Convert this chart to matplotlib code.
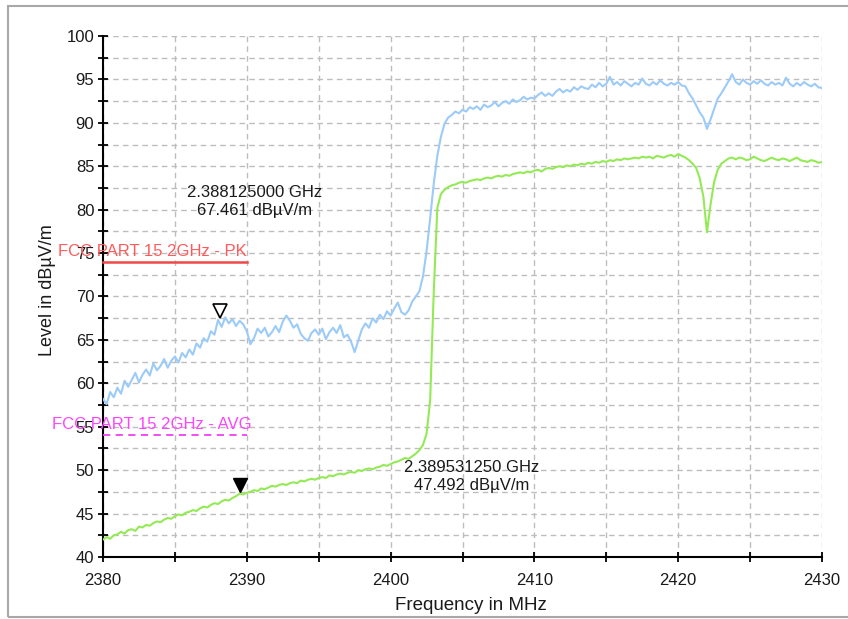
import numpy as np
import matplotlib
matplotlib.use("Agg")
import matplotlib.pyplot as plt
import matplotlib.transforms as mtransforms
from matplotlib.patches import Rectangle

plt.rcParams['font.family'] = ['Liberation Sans', 'DejaVu Sans']

# ---------------- data ----------------
f_start, f_stop = 2380.0, 2430.0

# Peak trace (dBuV/m), sampled every 0.25 MHz from 2380 to 2430
peak_trace = [
    58.2, 57.6, 59.0, 58.4,
    59.5, 58.8, 60.3, 59.6,
    60.4, 61.2, 60.1, 61.0,
    61.6, 60.9, 62.3, 61.5,
    62.0, 62.8, 61.8, 62.6,
    63.1, 62.4, 63.5, 63.0,
    63.9, 63.3, 64.6, 64.1,
    65.2, 64.8, 66.0, 65.6,
    67.3, 66.5, 67.6, 66.9,
    67.4, 66.6, 67.2, 66.8,
    66.0, 64.5, 65.2, 66.3,
    65.8, 66.4, 65.4, 65.9,
    66.6, 65.9, 67.1, 67.8,
    67.2, 66.4, 66.8, 65.7,
    65.2, 64.9, 65.8, 66.2,
    65.6, 66.3, 65.1, 65.9,
    66.4, 65.8, 66.7, 65.3,
    65.6, 64.8, 63.6, 64.9,
    66.2, 66.9, 66.4, 67.5,
    67.0, 67.9, 67.4, 68.3,
    67.8, 68.6, 69.3, 68.2,
    67.9, 68.4, 69.4, 70.0,
    70.6, 72.3, 75.2, 79.0,
    83.0, 86.2, 88.4, 89.9,
    90.6, 90.9, 91.3, 91.1,
    91.5, 91.3, 91.8, 91.6,
    91.9, 91.5, 92.1, 91.8,
    92.0, 92.4, 91.9, 92.3,
    92.5, 92.2, 92.7, 92.4,
    92.6, 93.0, 92.7, 92.9,
    92.8, 93.2, 93.5, 93.1,
    93.4, 93.1, 93.6, 93.9,
    93.5, 93.8, 93.6, 94.1,
    93.8, 94.2, 94.0, 93.9,
    94.4, 94.1, 94.6, 94.2,
    94.5, 95.3, 94.4, 94.7,
    94.3, 94.8, 94.5, 94.2,
    94.6, 94.4, 95.1, 94.5,
    94.3, 94.7, 94.4, 94.9,
    94.5, 94.3, 94.6, 94.4,
    94.7, 94.3, 94.2, 93.4,
    92.8, 92.0, 91.2, 90.6,
    89.3, 90.4, 91.6, 92.8,
    93.4, 94.1, 94.8, 95.6,
    94.7, 94.4, 95.0, 94.6,
    94.4, 94.8, 94.5, 94.9,
    94.5, 94.3, 94.7, 94.4,
    94.6, 94.3, 95.2, 94.5,
    94.2, 94.6, 94.3, 94.7,
    94.4, 94.2, 94.5, 94.1,
    94.0,
]

# Average trace (dBuV/m), same sampling
avg_trace = [
    42.0, 42.3, 42.1, 42.5,
    42.6, 42.9, 42.7, 43.1,
    43.2, 43.0, 43.5, 43.4,
    43.7, 43.6, 43.9, 44.1,
    44.0, 44.3, 44.5, 44.4,
    44.7, 44.9, 44.8, 45.1,
    45.2, 45.4, 45.3, 45.6,
    45.8, 45.7, 46.0, 46.2,
    46.1, 46.4, 46.6, 46.5,
    46.8, 47.0, 47.3, 47.2,
    47.4, 47.5, 47.7, 47.6,
    47.9, 47.8, 48.0, 48.2,
    48.1, 48.3, 48.4, 48.3,
    48.5, 48.6, 48.5, 48.8,
    48.7, 48.9, 49.0, 48.9,
    49.1, 49.2, 49.1, 49.4,
    49.3, 49.5, 49.6, 49.5,
    49.7, 49.8, 49.7, 50.0,
    49.9, 50.1, 50.2, 50.1,
    50.3, 50.4, 50.6, 50.5,
    50.7, 50.9, 51.0, 51.2,
    51.4, 51.3, 51.6, 51.9,
    52.3, 52.9, 54.2, 58.0,
    70.5, 80.2, 81.8, 82.3,
    82.6, 82.8, 82.9, 83.1,
    83.2, 83.1, 83.3, 83.4,
    83.5, 83.4, 83.6, 83.7,
    83.6, 83.8, 83.9, 83.8,
    84.0, 83.9, 84.1, 84.2,
    84.3, 84.2, 84.4, 84.3,
    84.5, 84.6, 84.4, 84.7,
    84.8, 84.7, 84.9, 85.0,
    84.9, 85.1, 85.0, 85.2,
    85.1, 85.3, 85.2, 85.4,
    85.3, 85.5, 85.4, 85.6,
    85.5, 85.7, 85.6, 85.8,
    85.7, 85.9, 85.8, 85.9,
    86.0, 85.9, 86.1, 86.0,
    86.1, 85.9, 86.2, 86.1,
    86.0, 86.2, 86.3, 86.1,
    86.4, 86.2, 86.0, 85.7,
    85.3, 84.8, 83.6, 81.5,
    77.4, 80.6, 83.2, 84.6,
    85.3, 85.6, 85.9, 86.0,
    85.8, 86.0, 85.9, 85.7,
    85.8, 86.1, 85.9, 85.7,
    85.6, 85.8, 86.0, 85.8,
    85.7, 85.9, 85.8, 85.6,
    85.8, 86.0, 85.7, 85.6,
    85.5, 85.7, 85.6, 85.4,
    85.5,
]

# Limit lines
limit_names = ["FCC PART 15 2GHz - PK", "FCC PART 15 2GHz - AVG"]
limit_levels = [74.0, 54.0]
limit_start = [2380.0, 2380.0]
limit_stop = [2390.0, 2390.0]

# Markers
marker_freq = [2388.125, 2389.53125]       # MHz
marker_level = [67.461, 47.492]            # dBuV/m

x_ticks = [2380, 2390, 2400, 2410, 2420, 2430]
y_ticks = [40, 45, 50, 55, 60, 65, 70, 75, 80, 85, 90, 95, 100]

# ---------------- figure ----------------
fig = plt.figure(figsize=(8.48, 6.19), dpi=100)
fig.patch.set_facecolor('white')
fig.patches.append(Rectangle((8 / 848, 2 / 619), 1.2, 611 / 619, transform=fig.transFigure,
                             fill=False, edgecolor='#a8a8a8', linewidth=1.5))

ax = fig.add_axes([103 / 848, 1 - 557 / 619, (822 - 103) / 848, (557 - 36) / 619])
ax.set_xlim(f_start, f_stop)
ax.set_ylim(40, 100)

freqs = np.linspace(f_start, f_stop, len(peak_trace))
ax.plot(freqs, peak_trace, color='#9ccbf8', linewidth=1.5, zorder=3)
ax.plot(freqs, avg_trace, color='#94ea55', linewidth=1.5, zorder=3)

# limit lines
ax.plot([limit_start[0], limit_stop[0]], [limit_levels[0]] * 2, color='#f04848', linewidth=1.8, zorder=4,
        clip_on=False)
ax.plot([limit_start[1], limit_stop[1]], [limit_levels[1]] * 2, color='#f040f0', linewidth=1.3,
        linestyle=(0, (4, 3)), zorder=4, clip_on=False)
ax.text(limit_stop[0], limit_levels[0] + 0.35, limit_names[0], color='#ff5a5a', fontsize=12,
        ha='right', va='bottom', zorder=5, clip_on=False)
ax.text(limit_stop[1] + 0.35, limit_levels[1] + 0.45, limit_names[1], color='#ff44ff', fontsize=12,
        ha='right', va='bottom', zorder=5, clip_on=False)

# markers
off = mtransforms.ScaledTranslation(0, 5.2 / 72, fig.dpi_scale_trans)
ax.plot(marker_freq[0], marker_level[0], marker='v', markersize=10.5, markerfacecolor='white',
        markeredgecolor='black', markeredgewidth=1.2, transform=ax.transData + off, zorder=6)
ax.plot(marker_freq[1], marker_level[1], marker='v', markersize=10.5, markerfacecolor='black',
        markeredgecolor='black', transform=ax.transData + off, zorder=6)

# marker annotations
ax.text(marker_freq[0] + 2.4, marker_level[0] + 13.5,
        f"{marker_freq[0] / 1000:.9f} GHz\n{marker_level[0]:.3f} dBµV/m",
        fontsize=12, ha='center', va='center', color='#1a1a1a', linespacing=1.25, zorder=6)
ax.text(marker_freq[1] + 16.1, marker_level[1] + 1.8,
        f"{marker_freq[1] / 1000:.9f} GHz\n{marker_level[1]:.3f} dBµV/m",
        fontsize=12, ha='center', va='center', color='#1a1a1a', linespacing=1.25, zorder=6)

# axes styling
for s in ['top', 'right']:
    ax.spines[s].set_visible(False)
for s in ['left', 'bottom']:
    ax.spines[s].set_color('black')
    ax.spines[s].set_linewidth(1.5)

ax.set_xticks(x_ticks)
ax.set_xticks(np.array(x_ticks[:-1]) + 5, minor=True)
ax.set_yticks(y_ticks)
ax.set_yticks(np.array(y_ticks[:-1]) + 2.5, minor=True)
ax.tick_params(axis='both', which='both', direction='inout', length=7.5, width=1.3, color='black')
ax.tick_params(axis='x', which='major', pad=8, labelsize=12, labelcolor='#1a1a1a')
ax.tick_params(axis='y', which='major', pad=2.5, labelsize=12, labelcolor='#1a1a1a')

ax.grid(True, which='both', color='#bdbdbd', linestyle=(0, (4, 3)), linewidth=1.0, zorder=0)
ax.set_axisbelow(True)

fig.text(48 / 848, 1 - 290 / 619, "Level in dBµV/m", rotation=90, ha='center', va='center',
         fontsize=13, color='#1a1a1a')
fig.text(471 / 848, 1 - 606 / 619, "Frequency in MHz", ha='center', va='center',
         fontsize=13.5, color='#1a1a1a')

fig.savefig("out.png", dpi=100, facecolor='white')
